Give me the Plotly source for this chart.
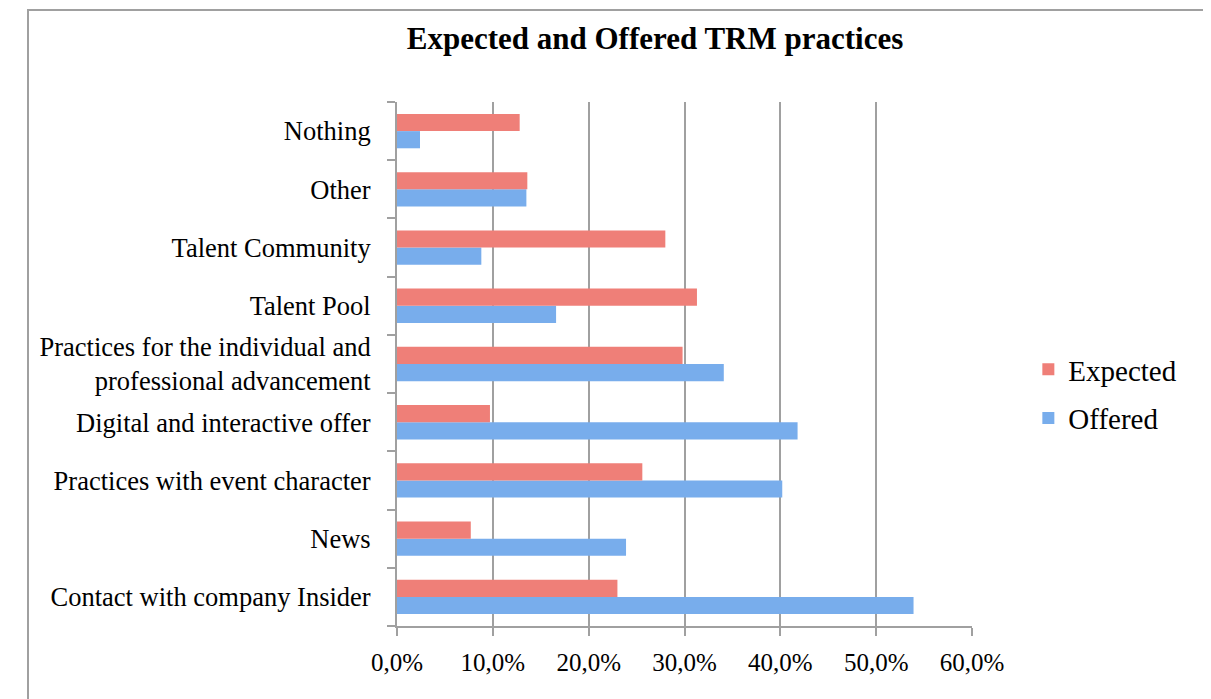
import plotly.graph_objects as go

categories = [
    "Contact with company Insider",
    "News",
    "Practices with event character",
    "Digital and interactive offer",
    "Practices for the individual and<br>professional advancement",
    "Talent Pool",
    "Talent Community",
    "Other",
    "Nothing",
]
expected = [23.0, 7.7, 25.6, 9.7, 29.8, 31.3, 28.0, 13.6, 12.8]
offered = [53.9, 23.9, 40.2, 41.8, 34.1, 16.6, 8.8, 13.5, 2.4]
x_ticks = [0, 10, 20, 30, 40, 50, 60]
x_tick_labels = ["0,0%", "10,0%", "20,0%", "30,0%", "40,0%", "50,0%", "60,0%"]

FONT = "Liberation Serif, Times New Roman, serif"

# the page body has an 8px margin, so the figure is laid out 8px smaller
W, H = 1203, 691
L, R, T, B = 389, 239, 94, 73
PW = W - L - R
PH = H - T - B

fig = go.Figure()
fig.add_trace(go.Bar(
    y=categories, x=offered, name="Offered", orientation="h",
    legendgroup="o", legendrank=2,
    marker=dict(color="#78adec", line=dict(width=0)),
))
fig.add_trace(go.Bar(
    y=categories, x=expected, name="Expected", orientation="h",
    legendgroup="e", legendrank=1,
    marker=dict(color="#ef7f78", line=dict(width=0)),
))

fig.update_layout(
    width=W, height=H,
    paper_bgcolor="white", plot_bgcolor="white",
    font=dict(family=FONT, size=26, color="black"),
    barmode="group", bargap=0.41, bargroupgap=0.0,
    margin=dict(l=L, r=R, t=T, b=B),
    title=dict(text="<b>Expected and Offered TRM practices</b>",
               x=647 / W, xanchor="center", y=1 - 30 / H, yanchor="middle",
               font=dict(family=FONT, size=31)),
    legend=dict(traceorder="grouped", x=1.098, xanchor="left",
                y=0.443, yanchor="middle",
                font=dict(family=FONT, size=29), tracegroupgap=8),
    showlegend=True,
    xaxis=dict(range=[0, 60], tickvals=x_ticks, ticktext=x_tick_labels,
               showgrid=True, gridcolor="#a0a0a0", gridwidth=2,
               showline=True, linecolor="#a0a0a0", linewidth=2,
               ticks="outside", ticklen=8, tickcolor="#a0a0a0", tickwidth=2,
               ticklabelstandoff=5, zeroline=False,
               tickfont=dict(family=FONT, size=25)),
    yaxis=dict(type="category", categoryorder="array", categoryarray=categories,
               showline=True, linecolor="#a0a0a0", linewidth=2,
               ticks="outside", ticklen=8, tickcolor="#a0a0a0", tickwidth=2,
               tickson="boundaries", ticklabelstandoff=19,
               tickfont=dict(family=FONT, size=26.5)),
)

# outer chart frame
fig.add_shape(type="rect", xref="paper", yref="paper",
              x0=(20 - L) / PW, x1=(1196 - L) / PW,
              y0=-0.3, y1=1 + (T - 2) / PH,
              line=dict(color="#a0a0a0", width=2), fillcolor="rgba(0,0,0,0)", layer="below")

fig.write_html("out.html")
